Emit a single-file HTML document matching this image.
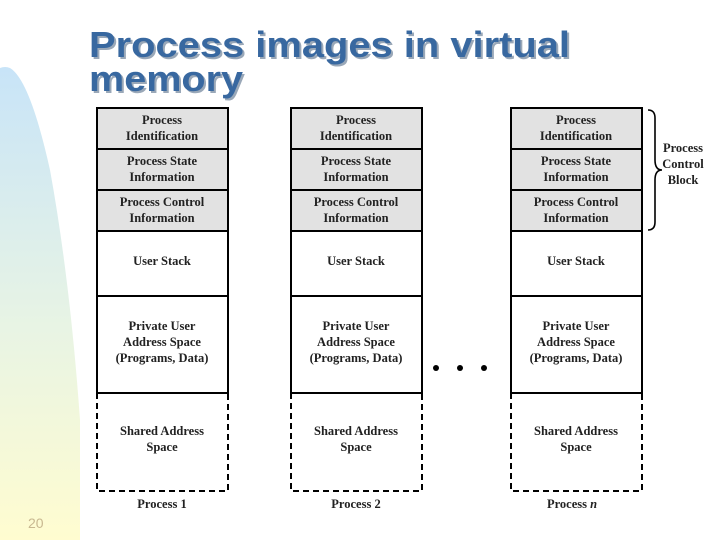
<!DOCTYPE html>
<html><head><meta charset="utf-8"><style>
html,body{margin:0;padding:0;background:#fff;}
svg{display:block}
</style></head><body>
<svg width="720" height="540" viewBox="0 0 720 540" xmlns="http://www.w3.org/2000/svg">
<defs>
<linearGradient id="g" x1="0" y1="0" x2="0" y2="1">
<stop offset="0" stop-color="#c8e4f8"/>
<stop offset="0.55" stop-color="#e8f4e4"/>
<stop offset="1" stop-color="#fffcd0"/>
</linearGradient>
</defs>
<path d="M0,68 Q5,66 10,68 Q30,80 50,170 Q70,280 80,420 L80,540 L0,540 Z" fill="url(#g)"/>
<g font-family="Liberation Sans, sans-serif" font-weight="bold" font-size="36">
<text x="91" y="59" fill="#9aa8b8" textLength="481" lengthAdjust="spacingAndGlyphs">Process images in virtual</text>
<text x="91" y="93" fill="#9aa8b8" textLength="154" lengthAdjust="spacingAndGlyphs">memory</text>
<text x="89" y="57" fill="#3868a0" textLength="481" lengthAdjust="spacingAndGlyphs">Process images in virtual</text>
<text x="89" y="91" fill="#3868a0" textLength="154" lengthAdjust="spacingAndGlyphs">memory</text>
</g>
<text x="28" y="528" font-family="Liberation Sans, sans-serif" font-size="14" fill="#c8b890">20</text>
<g font-family="Liberation Serif, serif" font-weight="bold" font-size="12.5" fill="#222" text-anchor="middle">
<g id="c1">
<rect x="97" y="108" width="131" height="123" fill="#e2e2e2"/>
<rect x="97" y="108" width="131" height="285" fill="none" stroke="#000" stroke-width="2"/>
<line x1="97" y1="149" x2="228" y2="149" stroke="#000" stroke-width="2"/>
<line x1="97" y1="190" x2="228" y2="190" stroke="#000" stroke-width="2"/>
<line x1="97" y1="231" x2="228" y2="231" stroke="#000" stroke-width="2"/>
<line x1="97" y1="296" x2="228" y2="296" stroke="#000" stroke-width="2"/>
<path d="M97,393 L97,491 L228,491 L228,393" fill="none" stroke="#000" stroke-width="2" stroke-dasharray="6,4"/>
<text x="162" y="124">Process</text><text x="162" y="140">Identification</text>
<text x="162" y="165">Process State</text><text x="162" y="181">Information</text>
<text x="162" y="206">Process Control</text><text x="162" y="222">Information</text>
<text x="162" y="265">User Stack</text>
<text x="162" y="330">Private User</text><text x="162" y="346">Address Space</text><text x="162" y="362">(Programs, Data)</text>
<text x="162" y="435">Shared Address</text><text x="162" y="451">Space</text>
</g>
<use href="#c1" x="194"/>
<use href="#c1" x="414"/>
<text x="162" y="508">Process 1</text>
<text x="356" y="508">Process 2</text>
<text x="572" y="508">Process <tspan font-style="italic">n</tspan></text>
<text x="683" y="152">Process</text><text x="683" y="168">Control</text><text x="683" y="184">Block</text>
</g>
<circle cx="436" cy="368" r="3" fill="#000"/>
<circle cx="460" cy="368" r="3" fill="#000"/>
<circle cx="484" cy="368" r="3" fill="#000"/>
<path d="M648,110 Q655,110 655,118 L655,160 Q655,170 662,170 Q655,170 655,180 L655,222 Q655,230 648,230" fill="none" stroke="#000" stroke-width="1.6"/>
</svg>
</body></html>
